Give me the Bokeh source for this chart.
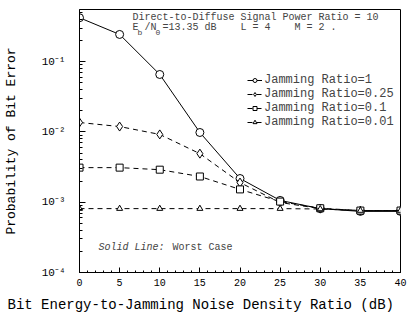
from bokeh.plotting import figure
from bokeh.models import (Range1d, Legend, LegendItem, Label, SingleIntervalTicker,
                          CustomJSTickFormatter, Title)
from bokeh.embed import file_html
from bokeh.resources import INLINE

# ---- data ----
x_db = [0, 5, 10, 15, 20, 25, 30, 35, 40]
ber_jr_1 = [0.42, 0.243, 0.0655, 0.0098, 0.00217, 0.00106, 0.00081, 0.00074, 0.00074]
ber_jr_025 = [0.0136, 0.0119, 0.0092, 0.0049, 0.0019, 0.00099, 0.00081, 0.00076, 0.00076]
ber_jr_01 = [0.0031, 0.0031, 0.0029, 0.00232, 0.00152, 0.00102, 0.00082, 0.00076, 0.00076]
ber_jr_001 = [0.00081, 0.00081, 0.00081, 0.00081, 0.00081, 0.00081, 0.0008, 0.00076, 0.00076]
series_labels = ["Jamming Ratio=1", "Jamming Ratio=0.25", "Jamming Ratio=0.1", "Jamming Ratio=0.01"]
y_tick_labels = ["10\u207b\u2074", "10\u207b\u00b3", "10\u207b\u00b2", "10\u207b\u00b9"]
NB = "\u00a0"
title_line1 = "Direct-to-Diffuse Signal Power Ratio = 10"
title_line2 = ("E" + NB + "/N" + NB + "=13.35" + NB + "dB" + NB * 4 + "L" + NB + "=" + NB + "4"
               + NB * 4 + "M" + NB + "=" + NB + "2" + NB + ".")
note_italic = "Solid Line:"
note_plain = "Worst Case"
x_title = "Bit Energy-to-Jamming Noise Density Ratio (dB)"
y_title = "Probability of Bit Error"

FONT = "Liberation Mono"

p = figure(width=411, height=323, y_axis_type="log",
           x_range=Range1d(0, 40), y_range=Range1d(1e-4, 0.55),
           output_backend="svg", toolbar_location=None,
           min_border_left=78, min_border_right=11, min_border_top=9, min_border_bottom=51)

p.xgrid.visible = False
p.ygrid.visible = False
p.outline_line_color = "black"
p.outline_line_width = 1
p.background_fill_color = "white"
p.border_fill_color = "white"

# x axis
p.xaxis.ticker = SingleIntervalTicker(interval=5, num_minor_ticks=5)
p.xaxis.major_tick_in = 5
p.xaxis.major_tick_out = 0
p.xaxis.minor_tick_in = 2
p.xaxis.minor_tick_out = 0
p.xaxis.major_label_standoff = 6
p.xaxis.major_label_text_font = FONT
p.xaxis.major_label_text_font_size = "10px"

# x-axis title, left-aligned so that it starts near the left edge like the reference
p.add_layout(Title(text=x_title, align="left", offset=-72, standoff=12,
                   text_font=FONT, text_font_size="14px", text_font_style="normal",
                   text_color="black"), "below")

# y axis
p.yaxis.formatter = CustomJSTickFormatter(args=dict(labels=y_tick_labels),
    code="const e = Math.round(Math.log10(tick)); const s = labels[e + 4]; return s === undefined ? '' : s;")
p.yaxis.major_tick_in = 6
p.yaxis.major_tick_out = 0
p.yaxis.minor_tick_in = 3
p.yaxis.minor_tick_out = 0
p.yaxis.major_label_standoff = 14
p.yaxis.major_label_text_font = FONT
p.yaxis.major_label_text_font_size = "11px"
p.yaxis.axis_label = y_title
p.yaxis.axis_label_text_font = FONT
p.yaxis.axis_label_text_font_size = "13px"
p.yaxis.axis_label_text_font_style = "normal"
p.yaxis.axis_label_standoff = 20

for ax in (p.xaxis, p.yaxis):
    ax.axis_line_color = "black"
    ax.major_tick_line_color = "black"
    ax.minor_tick_line_color = "black"
    ax.major_label_text_color = "black"
    ax.axis_label_text_color = "black"

series = [
    (ber_jr_1, "solid", "circle", 8),
    (ber_jr_025, "5 4", "diamond", 9),
    (ber_jr_01, "5 4", "square", 7),
    (ber_jr_001, "5 4", "triangle", 6),
]

items = []
for (vals, dash, marker, size), lab in zip(series, series_labels):
    ln = p.line(x_db, vals, line_color="black", line_width=1, line_dash=dash)
    sc = p.scatter(x_db, vals, marker=marker, size=size, line_color="black",
                   fill_color="white", line_width=1)
    items.append(LegendItem(label=lab, renderers=[ln, sc]))

legend = Legend(items=items, location=(168, 143),
                border_line_alpha=0, background_fill_alpha=0,
                label_text_font=FONT, label_text_font_size="12px",
                glyph_width=15, glyph_height=10, label_height=10,
                spacing=0, padding=0, margin=0, label_standoff=2)
p.add_layout(legend)

p.add_layout(Label(x=53, y=255, x_units="screen", y_units="screen", text=title_line1,
                   text_font=FONT, text_font_size="10px", text_baseline="middle"))
p.add_layout(Label(x=53, y=245, x_units="screen", y_units="screen", text=title_line2,
                   text_font=FONT, text_font_size="10px", text_baseline="middle"))
p.add_layout(Label(x=58, y=240, x_units="screen", y_units="screen", text="b",
                   text_font=FONT, text_font_size="8px", text_baseline="middle"))
p.add_layout(Label(x=76, y=240, x_units="screen", y_units="screen", text="0",
                   text_font=FONT, text_font_size="8px", text_baseline="middle"))
p.add_layout(Label(x=19, y=25, x_units="screen", y_units="screen", text=note_italic,
                   text_font=FONT, text_font_size="10px", text_baseline="middle",
                   text_font_style="italic"))
p.add_layout(Label(x=93, y=25, x_units="screen", y_units="screen", text=note_plain,
                   text_font=FONT, text_font_size="10px", text_baseline="middle"))

open("out.html", "w").write(file_html(p, INLINE))
